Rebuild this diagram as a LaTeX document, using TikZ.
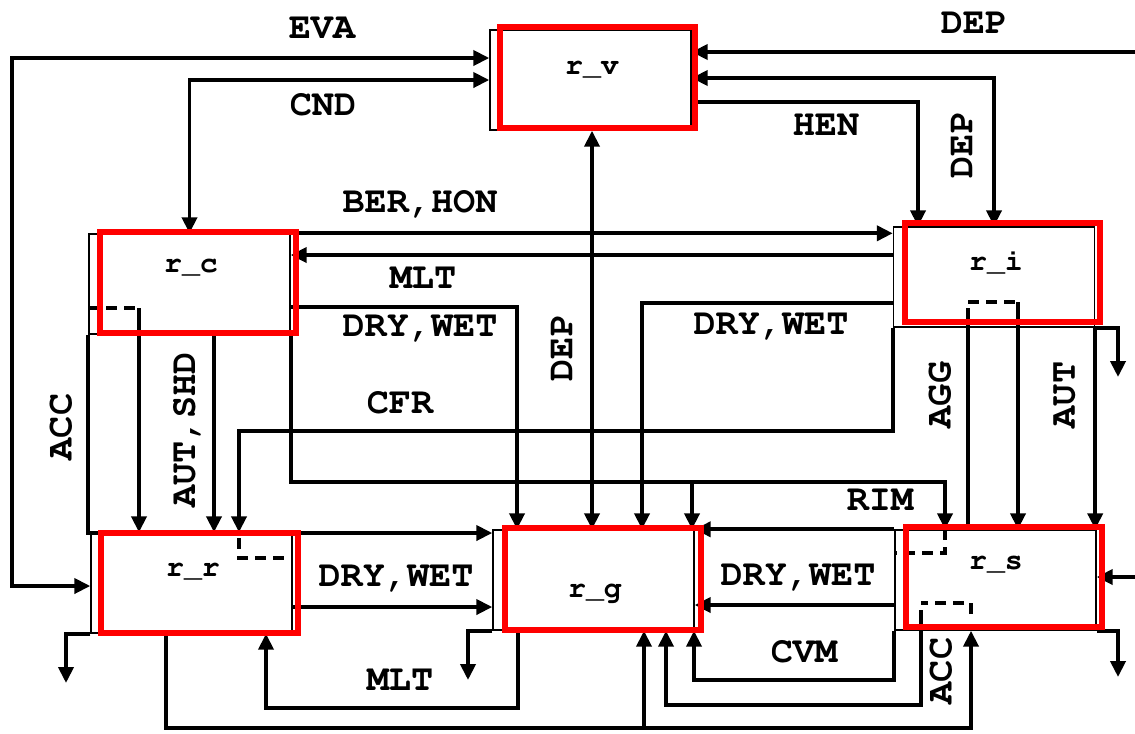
\documentclass[tikz,border=0pt]{standalone}
\usepackage[T1]{fontenc}
\usepackage{courier}
\usepackage{tikz}
\usetikzlibrary{arrows.meta}

\begin{document}
\begin{tikzpicture}[
  box/.style={draw, thin, minimum width=2.01cm, minimum height=1cm, inner sep=0pt},
  hl/.style={draw=red, line width=1.5pt},
  e/.style={-{Triangle[length=1.6mm,width=1.5mm]}, line width=1.1pt},
  bi/.style={{Triangle[length=1.6mm,width=1.5mm]}-{Triangle[length=1.6mm,width=1.5mm]}, line width=1.1pt},
  ln/.style={line width=1.1pt},
  dsh/.style={line width=1.1pt, dash pattern=on 1.1mm off 0.7mm},
  lbl/.style={font=\ttfamily\bfseries\fontsize{10.5}{12}\selectfont, inner sep=0pt},
  nm/.style={font=\ttfamily\bfseries\fontsize{8.5}{10}\selectfont, inner sep=0pt}]
  \fill[white] (0,0) rectangle (11.35,-7.33);
  \useasboundingbox (0,0) rectangle (11.35,-7.33);

  % species boxes
  \node[box] (rv) at (5.905,-0.80) {};
  \node[box] (rc) at (1.895,-2.84) {};
  \node[box] (ri) at (9.94,-2.77)  {};
  \node[box] (rr) at (1.915,-5.83) {};
  \node[box] (rg) at (5.935,-5.80) {};
  \node[box] (rs) at (9.955,-5.80) {};
  \node[nm] (rvtext) at (5.92,-0.70) {r\_v};
  \node[nm] (rctext) at (1.91,-2.68) {r\_c};
  \node[nm] (ritext) at (9.96,-2.63) {r\_i};
  \node[nm] (rrtext) at (1.93,-5.72) {r\_r};
  \node[nm] (rgtext) at (5.95,-5.93) {r\_g};
  \node[nm] (rstext) at (9.96,-5.65) {r\_s};

  % free ends at the border
  \coordinate (depin) at (11.35,-0.52);
  \coordinate (rsin)  at (11.35,-5.77);
  \coordinate (riout) at (11.18,-3.77);
  \coordinate (rsout) at (11.18,-6.77);
  \coordinate (rgout) at (4.68,-6.80);
  \coordinate (rrout) at (0.66,-6.83);

  % vapour
  \draw[bi] ([yshift=-0.03cm]rr.west) -| (0.12,-0.58) -- (rv.west |- 0,-0.58);
  \draw[bi] (rv.west) -| (rc.north);
  \draw[e] (depin) -- (rv.east |- depin);
  \draw[bi] ([yshift=0.02cm]rv.east) -| (ri.north);
  \draw[e] (rv.east |- 0,-1.02) -| (ri.north -| 9.18,0);
  \draw[bi] (rv.south -| 5.92,0) -- (rg.north -| 5.92,0);

  % cloud and ice
  \draw[e] (rc.north east) -- (rc.north east -| ri.west);
  \draw[e] (ri.west |- 0,-2.55) -- (rc.east |- 0,-2.55);
  \draw[e] (rc.east |- 0,-3.07) -| (rg.north -| 5.17,0);
  \draw[e] (ri.west |- 0,-3.03) -| (rg.north -| 6.42,0);
  \draw[e] (ri.south west) |- (2.39,-4.31) -- (rr.north -| 2.39,0);
  \draw[dsh] (2.39,-5.38) |- (rr.east |- 0,-5.58);
  \draw[dsh] (rc.west |- 0,-3.08) -- (1.39,-3.08);
  \draw[e] (1.39,-3.08) -- (rr.north -| 1.39,0);
  \draw[e] (rc.south west) |- (rg.west |- 0,-5.33);
  \draw[e] (rc.south -| 2.14,0) -- (rr.north -| 2.14,0);
  \draw[e] (rc.south east) |- (9.45,-4.82) -- (rs.north -| 9.45,0);
  \draw[e] (6.92,-4.82) -- (rg.north -| 6.92,0);
  \draw[dsh] (rs.north -| 9.45,0) |- (rs.west |- 0,-5.53);
  \draw[dsh] (9.68,-3.02) -- (10.18,-3.02);
  \draw[ln] (9.68,-3.08) -- (rs.north -| 9.68,0);
  \draw[e] (10.18,-3.02) -- (rs.north -| 10.18,0);
  \draw[e] (ri.south east) -- (ri.south east |- rs.north);
  \draw[e] (ri.south east) -| (riout);

  % snow, rain and graupel
  \draw[e] (rs.north west) -- (rg.north east);
  \draw[e] (rs.west |- 0,-6.05) -- (rg.east |- 0,-6.05);
  \draw[e] (rr.east |- 0,-6.07) -- (rg.west |- 0,-6.07);
  \draw[e] (rsin) -- (rs.east |- rsin);
  \draw[e] (rs.south east) -| (rsout);
  \draw[e] (rg.south west) -| (rgout);
  \draw[e] (rr.south west) -| (rrout);
  \draw[e] (rg.south -| 5.18,0) |- (2.66,-7.08) -- (rr.south -| 2.66,0);
  \draw[e] (rr.south -| 1.66,0) |- (9.71,-7.28) -- (rs.south -| 9.71,0);
  \draw[e] (6.44,-7.28) -- (rg.south -| 6.44,0);
  \draw[dsh] (9.71,-6.14) |- (9.21,-6.03);
  \draw[e] (9.21,-6.10) |- (6.66,-7.05) -- (rg.south -| 6.66,0);
  \draw[e] (rs.south west) |- (6.94,-6.80) -- (rg.south -| 6.94,0);

  % process names
  \node[lbl] (eva) at (3.22,-0.28) {EVA};
  \node[lbl] (cnd) at (3.23,-1.05) {CND};
  \node[lbl] (berhon) at (4.20,-2.03) {BER,HON};
  \node[lbl] (deptop) at (9.74,-0.23) {DEP};
  \node[lbl] (hen) at (8.26,-1.26) {HEN};
  \node[lbl, rotate=90] (depvi) at (9.62,-1.45) {DEP};
  \node[lbl] (mltci) at (4.23,-2.78) {MLT};
  \node[lbl] (dwcg) at (4.20,-3.28) {DRY,WET};
  \node[lbl] (cfr) at (4.00,-4.03) {CFR};
  \node[lbl, rotate=90] (acccr) at (0.61,-4.27) {ACC};
  \node[lbl, rotate=90] (autshd) at (1.86,-4.30) {AUT,SHD};
  \node[lbl, rotate=90] (depvg) at (5.62,-3.48) {DEP};
  \node[lbl] (dwig) at (7.71,-3.26) {DRY,WET};
  \node[lbl, rotate=90] (agg) at (9.40,-3.95) {AGG};
  \node[lbl, rotate=90] (aut) at (10.65,-3.95) {AUT};
  \node[lbl] (rim) at (8.80,-5.00) {RIM};
  \node[lbl] (dwrg) at (3.96,-5.78) {DRY,WET};
  \node[lbl] (dwsg) at (7.98,-5.77) {DRY,WET};
  \node[lbl] (cvm) at (8.04,-6.52) {CVM};
  \node[lbl, rotate=90] (accrs) at (9.41,-6.71) {ACC};
  \node[lbl] (mltgr) at (4.00,-6.80) {MLT};

  % red frames
  \foreach \xa/\ya/\xb/\yb in {5.00/-0.27/6.95/-1.28, 1.00/-2.32/2.96/-3.33,
                     9.05/-2.23/11.00/-3.22, 1.01/-5.33/2.98/-6.33,
                     5.05/-5.28/7.01/-6.30, 9.06/-5.27/11.02/-6.27}
    \draw[hl] (\xa,\ya) rectangle (\xb,\yb);
\end{tikzpicture}
\end{document}
